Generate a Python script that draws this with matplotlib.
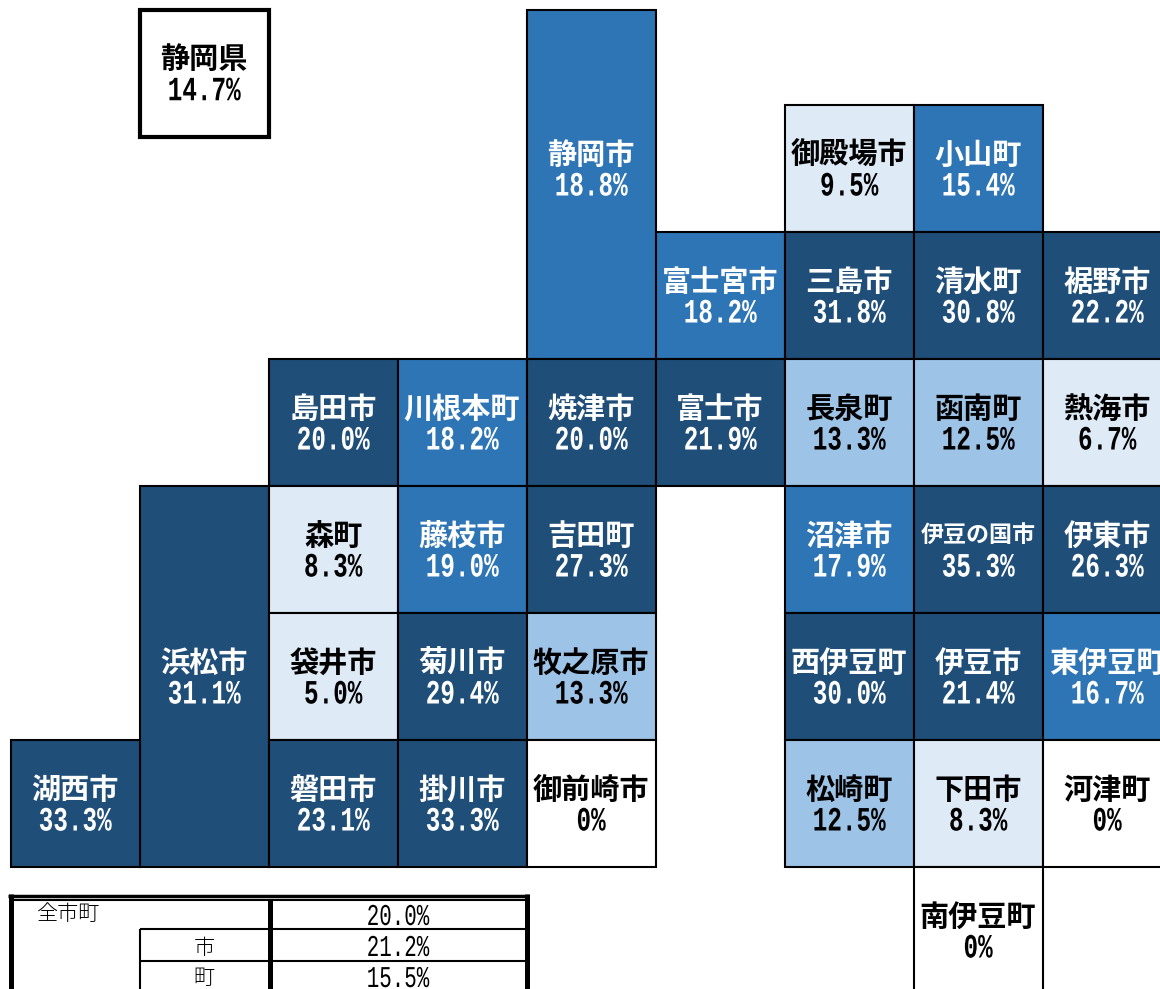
import matplotlib
matplotlib.use("Agg")
import matplotlib.pyplot as plt
from matplotlib.patches import Rectangle
from matplotlib.patheffects import AbstractPathEffect
from matplotlib.transforms import Affine2D

plt.rcParams["font.family"] = ["Noto Sans CJK JP", "DejaVu Sans"]

# 市町ごとの値 (%)
names = ["御殿場市", "小山町",
         "静岡市", "富士宮市", "三島市", "清水町", "裾野市",
         "島田市", "川根本町", "焼津市", "富士市", "長泉町", "函南町", "熱海市",
         "浜松市", "森町", "藤枝市", "吉田町", "沼津市", "伊豆の国市", "伊東市",
         "袋井市", "菊川市", "牧之原市", "西伊豆町", "伊豆市", "東伊豆町",
         "湖西市", "磐田市", "掛川市", "御前崎市", "松崎町", "下田市", "河津町",
         "南伊豆町"]
values = [9.5, 15.4,
          18.8, 18.2, 31.8, 30.8, 22.2,
          20.0, 18.2, 20.0, 21.9, 13.3, 12.5, 6.7,
          31.1, 8.3, 19.0, 27.3, 17.9, 35.3, 26.3,
          5.0, 29.4, 13.3, 30.0, 21.4, 16.7,
          33.3, 23.1, 33.3, 0, 12.5, 8.3, 0,
          0]
# タイルマップ上の位置
cols = [6, 7,
        4, 5, 6, 7, 8,
        2, 3, 4, 5, 6, 7, 8,
        1, 2, 3, 4, 6, 7, 8,
        2, 3, 4, 6, 7, 8,
        0, 2, 3, 4, 6, 7, 8,
        7]
rows = [0, 0,
        -0.75, 1, 1, 1, 1,
        2, 2, 2, 2, 2, 2, 2,
        3, 3, 3, 3, 3, 3, 3,
        4, 4, 4, 4, 4, 4,
        5, 5, 5, 5, 5, 5, 5,
        6]
heights = {"静岡市": 2.75, "浜松市": 3}
label_rows = {"静岡市": 0.5}  # 文字だけ上の段に寄っている

pref_name = "静岡県"
pref_value = 14.7

table_labels = ["全市町", "市", "町"]
table_values = [20.0, 21.2, 15.5]

NUM_FONT = ["Liberation Mono", "DejaVu Sans"]
W, H = 1160, 989
CW, CH = 129, 127


class Stretch(AbstractPathEffect):
    # 縦長の半角数字にするための変形
    def __init__(self, sy):
        self.sy = sy

    def draw_path(self, renderer, gc, tpath, affine, rgbFace=None):
        renderer.draw_path(gc, tpath, Affine2D().scale(1, self.sy) + affine, rgbFace)


def tile_color(v):
    if v <= 0:
        return "white", "black"
    if v < 10:
        return "#DEEAF6", "black"
    if v < 15:
        return "#9DC3E6", "black"
    if v < 20:
        return "#2E75B6", "white"
    return "#1F4E79", "white"


fig = plt.figure(figsize=(W / 100, H / 100), dpi=100)
ax = fig.add_axes([0, 0, 1, 1])
ax.set_xlim(-10.5 / CW, (W - 10.5) / CW)
ax.set_ylim((H - 105) / CH, -105 / CH)
ax.axis("off")


def put_label(cx, cy, name, val, color):
    size = 16.6 if len(name) > 4 else 21
    ax.text(cx, cy - 14 / CH, name, ha="center", va="center", color=color,
            fontsize=size, fontweight="bold")
    txt = "0%" if val == 0 else f"{val:.1f}%"
    ax.text(cx, cy + 27 / CH, txt, ha="center", va="baseline", color=color,
            fontsize=17.5, family=NUM_FONT, fontweight="bold",
            path_effects=[Stretch(1.4)])


for name, v, c, r in zip(names, values, cols, rows):
    h = heights.get(name, 1)
    fc, tc = tile_color(v)
    ax.add_patch(Rectangle((c, r), 1, h, fc=fc, ec="black", lw=1.5))
    put_label(c + 0.5, label_rows.get(name, r + h / 2), name, v, tc)

# 県全体
ax.add_patch(Rectangle((1, -0.75), 1, 1, fc="white", ec="black", lw=3))
put_label(1.5, -0.25, pref_name, pref_value, "black")

# 下の表 (ピクセル座標)
tb = fig.add_axes([0, 0, 1, 1], facecolor="none")
tb.set_xlim(0, W)
tb.set_ylim(H, 0)
tb.axis("off")

label_y = [914, 948, 978]
value_y = [925, 956, 987]
for i, (lab, v) in enumerate(zip(table_labels, table_values)):
    if i == 0:
        tb.text(37, label_y[i], lab, ha="left", va="center", fontsize=15.2, fontweight="light")
    else:
        tb.text(204, label_y[i], lab, ha="center", va="center", fontsize=15.2, fontweight="light")
    tb.text(398, value_y[i], f"{v:.1f}%", ha="center", va="baseline", fontsize=15,
            family=NUM_FONT, path_effects=[Stretch(1.45)])

lines = [([8, 529], [895.7, 895.7], 2.5),
         ([10, 527], [900, 900], 1.5),
         ([10.5, 10.5], [894, H], 3.6),
         ([269.5, 269.5], [899, H], 3.6),
         ([526.5, 526.5], [894, H], 3.6),
         ([140, 140], [929, H], 1.5),
         ([140, 527], [929, 929], 1.5),
         ([140, 527], [961, 961], 1.5)]
for xs, ys, lw in lines:
    tb.plot(xs, ys, color="black", lw=lw, solid_capstyle="butt")

fig.savefig("out.png", dpi=100)
